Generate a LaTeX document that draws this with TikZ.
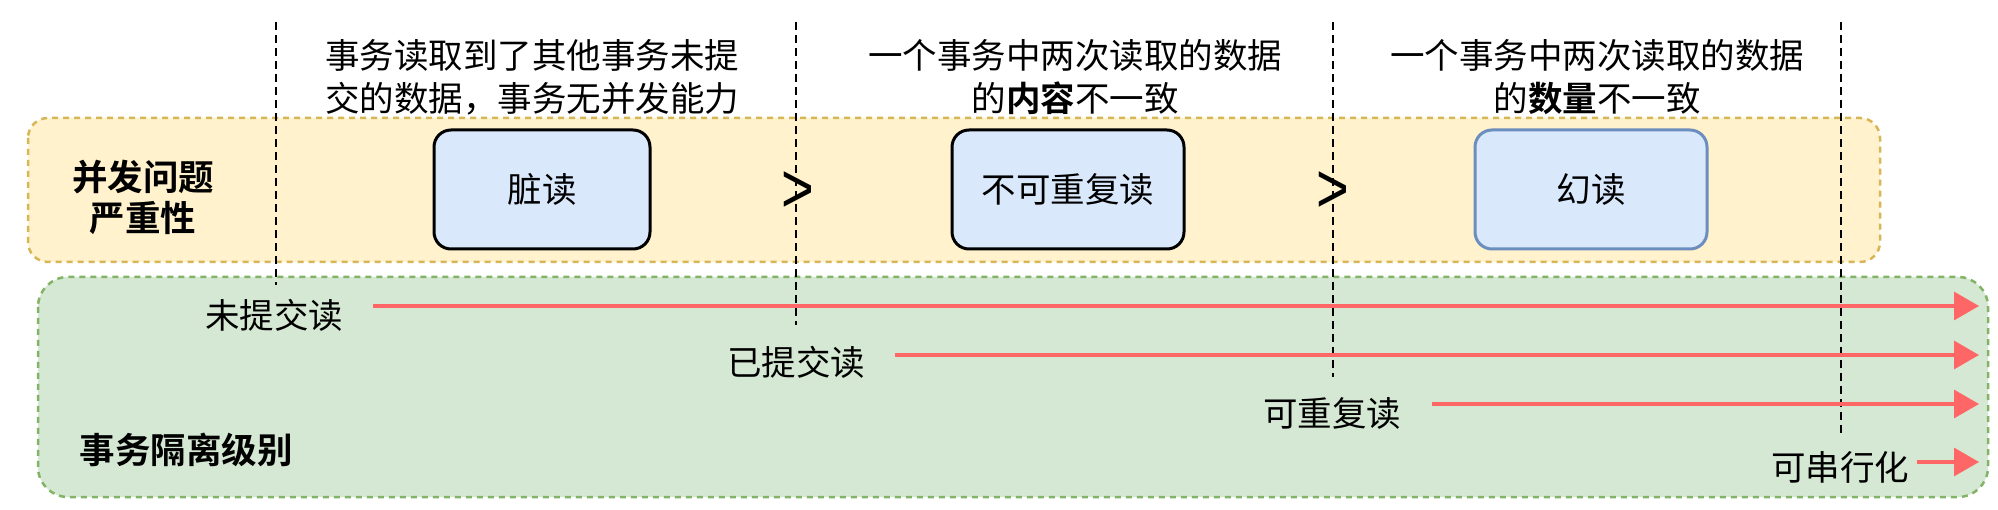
\documentclass[tikz,border=0pt]{standalone}
\usepackage{fontspec}
\setmainfont{Noto Sans CJK SC}[BoldFont={Noto Sans CJK SC Bold}]
\newfontfamily\gtfont{Liberation Sans}
\usetikzlibrary{arrows.meta}
\definecolor{ylwfill}{HTML}{FFF2CC}
\definecolor{ylwline}{HTML}{D6B656}
\definecolor{grnfill}{HTML}{D5E8D4}
\definecolor{grnline}{HTML}{82B366}
\definecolor{bluefill}{HTML}{DAE8FC}
\definecolor{blueline}{HTML}{6C8EBF}
\definecolor{redline}{HTML}{FF6666}
\begin{document}
\begin{tikzpicture}[x=1pt,y=-1pt,
  txt/.style={inner sep=0pt,font=\fontsize{34.5}{43}\selectfont,align=center},
  boldtxt/.style={inner sep=0pt,font=\fontsize{35.5}{41}\selectfont\bfseries,align=center},
  problembox/.style={draw=black,line width=3pt,fill=bluefill,rounded corners=17pt,
    minimum height=119pt,inner sep=0pt,font=\fontsize{34.5}{43}\selectfont},
  gtsign/.style={inner sep=0pt,xscale=0.8,font=\fontsize{70}{72}\selectfont\gtfont},
  vdash/.style={draw=black,line width=2pt,dash pattern=on 8pt off 5pt},
  redarrow/.style={draw=redline,line width=3.2pt,-{Triangle[length=25pt,width=28pt]}},
  zone/.style={line width=2.5pt,dash pattern=on 6pt off 5pt}]
\useasboundingbox[fill=white] (0,0) rectangle (1998,510);

% zones
\draw[zone,draw=ylwline,fill=ylwfill,rounded corners=20pt] (28,118) rectangle (1880,262);
\draw[zone,draw=grnline,fill=grnfill,rounded corners=30pt] (38,277) rectangle (1988,497);

% vertical dashed lines
\coordinate (v1t) at (275.5,22);  \coordinate (v1b) at (275.5,285);
\coordinate (v2t) at (796,22);    \coordinate (v2b) at (796,325);
\coordinate (v3t) at (1333,22);   \coordinate (v3b) at (1333,377);
\coordinate (v4t) at (1841,22);   \coordinate (v4b) at (1841,435);
\draw[vdash] (v1t) -- (v1b);
\draw[vdash] (v2t) -- (v2b);
\draw[vdash] (v3t) -- (v3b);
\draw[vdash] (v4t) -- (v4b);

% top descriptions
\node[txt] (d1) at (532,77) {事务读取到了其他事务未提\\交的数据，事务无并发能力};
\node[txt] (d2) at (1075,77) {一个事务中两次读取的数据\\的\textbf{内容}不一致};
\node[txt] (d3) at (1597,77) {一个事务中两次读取的数据\\的\textbf{数量}不一致};

% problem boxes
\node[boldtxt] (sev) at (143,197) {并发问题\\严重性};
\node[problembox,minimum width=216pt] (p1) at (542,189.5) {脏读};
\node[problembox,minimum width=232pt] (p2) at (1068,189.5) {不可重复读};
\node[problembox,minimum width=232pt,draw=blueline] (p3) at (1591,189.5) {幻读};
\node[gtsign] (g1) at (798,192) {>};
\node[gtsign] (g2) at (1333,192) {>};

% isolation levels
\node[boldtxt] (iso) at (186,450) {事务隔离级别};
\node[txt] (l1) at (274,315) {未提交读};
\node[txt] (l2) at (796,362) {已提交读};
\node[txt] (l3) at (1332,413) {可重复读};
\node[txt] (l4) at (1840,467) {可串行化};

\coordinate (a1s) at (373,306);  \coordinate (a1e) at (1979,306);
\coordinate (a2s) at (895,355);  \coordinate (a2e) at (1979,355);
\coordinate (a3s) at (1432,404); \coordinate (a3e) at (1979,404);
\coordinate (a4s) at (1917,462); \coordinate (a4e) at (1979,462);
\draw[redarrow] (a1s) -- (a1e);
\draw[redarrow] (a2s) -- (a2e);
\draw[redarrow] (a3s) -- (a3e);
\draw[redarrow] (a4s) -- (a4e);
\end{tikzpicture}
\end{document}
